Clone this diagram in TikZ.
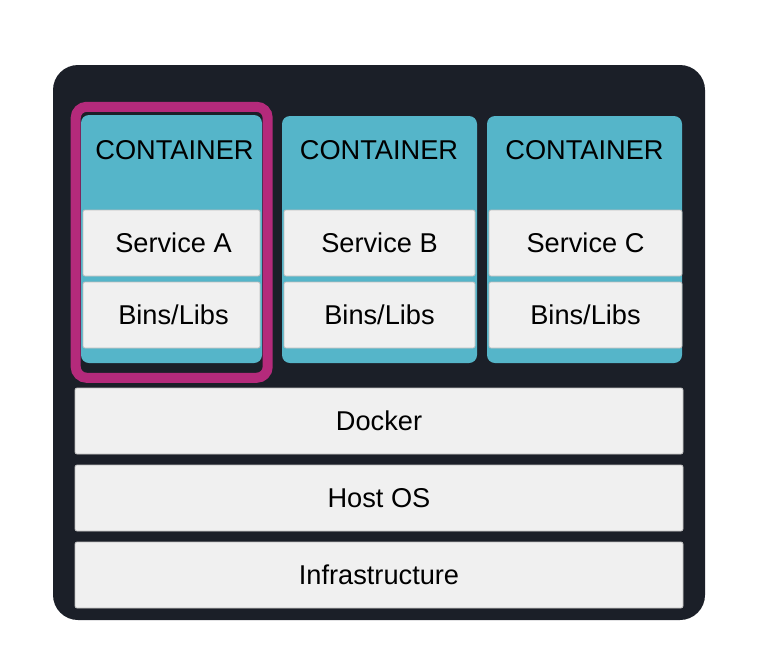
\documentclass[tikz,border=0pt]{standalone}
\usepackage{fontspec}
\setmainfont{Liberation Sans}
\definecolor{darkbg}{HTML}{1B1F28}
\definecolor{teal}{HTML}{55B5C9}
\definecolor{hilite}{HTML}{B42A7B}
\definecolor{boxwhite}{HTML}{F0F0F0}
\definecolor{boxline}{HTML}{BDBDBD}
\tikzset{
  lbl/.style={font=\fontsize{27.2pt}{30pt}\selectfont, text=black, text height=19.5pt, text depth=0pt},
  layer/.style={draw=boxline, line width=0.7pt, fill=boxwhite, rounded corners=2pt, inner sep=0pt, lbl},
  contbox/.style={fill=teal, rounded corners=8pt, inner sep=0pt, draw=none},
  frame/.style={fill=darkbg, rounded corners=25pt, inner sep=0pt, draw=none},
  highlight/.style={draw=hilite, line width=10pt, rounded corners=11pt, inner sep=0pt, fill=none},
}
\begin{document}
\begin{tikzpicture}[x=1pt,y=-1pt]
  \useasboundingbox[fill=white] (0,0) rectangle (758,654);
  % outer dark frame
  \node[frame, minimum width=652pt, minimum height=555pt] (host) at (379,342.5) {};
  % containers
  \node[contbox, minimum width=181pt, minimum height=248pt] (ca) at (171.5,239) {};
  \node[contbox, minimum width=195pt, minimum height=247pt] (cb) at (379.5,239.5) {};
  \node[contbox, minimum width=195pt, minimum height=247pt] (cc) at (584.5,239.5) {};
  \node[lbl] (ta) at (174.5,150) {CONTAINER};
  \node[lbl] (tb) at (379,150) {CONTAINER};
  \node[lbl] (tc) at (584.5,150) {CONTAINER};
  % services
  \node[layer, minimum width=177pt, minimum height=66pt] (sa) at (171.5,243) {\hspace*{4pt}Service A};
  \node[layer, minimum width=191pt, minimum height=66pt] (sb) at (379.5,243) {Service B};
  \node[layer, minimum width=193pt, minimum height=66pt] (sc) at (585.5,243) {Service C};
  % bins/libs
  \node[layer, minimum width=177pt, minimum height=66pt] (ba) at (171.5,315) {\hspace*{4pt}Bins/Libs};
  \node[layer, minimum width=191pt, minimum height=66pt] (bb) at (379.5,315) {Bins/Libs};
  \node[layer, minimum width=193pt, minimum height=66pt] (bc) at (585.5,315) {Bins/Libs};
  % highlight around container A
  \node[highlight, minimum width=192pt, minimum height=271pt] (hl) at (171.7,242.3) {};
  % bottom layers
  \node[layer, minimum width=608pt, minimum height=66pt] (docker) at (379,421) {Docker};
  \node[layer, minimum width=608pt, minimum height=66pt] (hostos) at (379,498) {Host OS};
  \node[layer, minimum width=608pt, minimum height=66pt] (infra) at (379,575) {Infrastructure};
\end{tikzpicture}
\end{document}
